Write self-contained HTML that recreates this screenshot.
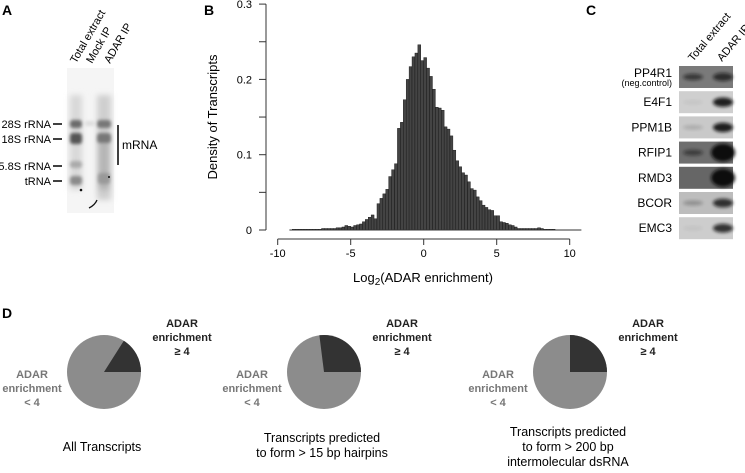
<!DOCTYPE html>
<html><head><meta charset="utf-8"><style>
body{margin:0;background:#fff;width:745px;height:468px;overflow:hidden;font-family:"Liberation Sans",sans-serif;}
svg text{font-family:"Liberation Sans",sans-serif;}
</style></head><body>
<svg id="fig" width="745" height="468" viewBox="0 0 745 468">
<defs>
<filter id="blur" x="-50%" y="-50%" width="200%" height="200%"><feGaussianBlur stdDeviation="1.6"/></filter>
<filter id="blur2" x="-50%" y="-50%" width="200%" height="200%"><feGaussianBlur stdDeviation="3"/></filter>
</defs>
<!-- Panel labels -->
<text x="2" y="15" font-size="14" font-weight="bold">A</text>
<text x="204" y="15" font-size="14" font-weight="bold">B</text>
<text x="586" y="15" font-size="14" font-weight="bold">C</text>
<text x="2" y="318" font-size="14" font-weight="bold">D</text>

<!-- Panel A gel -->
<g>
<rect x="67" y="68" width="47" height="145" fill="#f5f5f5"/>
<g filter="url(#blur2)">
<rect x="70" y="95" width="12" height="95" fill="#d8d8d8"/>
<rect x="97" y="95" width="14" height="105" fill="#cfcfcf"/>
<rect x="98" y="140" width="12" height="50" fill="#b5b5b5"/>
</g>
<g filter="url(#blur)">
<rect x="70" y="120" width="12" height="8" rx="3" fill="#6a6a6a"/>
<rect x="70" y="133" width="12" height="11" rx="3" fill="#555"/>
<rect x="70" y="161" width="12" height="7" rx="3" fill="#aaa"/>
<rect x="70" y="176" width="12" height="9" rx="3" fill="#8a8a8a"/>
<rect x="85" y="121" width="10" height="5" rx="2" fill="#ddd"/>
<rect x="97" y="120" width="14" height="8" rx="3" fill="#777"/>
<rect x="97" y="133" width="14" height="10" rx="3" fill="#777"/>
<rect x="98" y="173" width="12" height="11" rx="3" fill="#999"/>
</g>
<circle cx="81" cy="190" r="1.3" fill="#111"/>
<path d="M89 208 Q95 205 97 200" stroke="#111" stroke-width="1.3" fill="none"/>
<circle cx="109" cy="177" r="1" fill="#111"/>
</g>
<g font-size="11" text-anchor="end">
<text x="51" y="128">28S rRNA</text><line x1="53" y1="124" x2="62" y2="124" stroke="#000" stroke-width="1.5"/>
<text x="51" y="143">18S rRNA</text><line x1="53" y1="139" x2="62" y2="139" stroke="#000" stroke-width="1.5"/>
<text x="51" y="170">5.8S rRNA</text><line x1="53" y1="166" x2="62" y2="166" stroke="#000" stroke-width="1.5"/>
<text x="51" y="185">tRNA</text><line x1="53" y1="181" x2="62" y2="181" stroke="#000" stroke-width="1.5"/>
</g>
<line x1="118" y1="125" x2="118" y2="165" stroke="#000" stroke-width="1.5"/>
<text x="122" y="149" font-size="12">mRNA</text>
<g font-size="11">
<text transform="translate(76,64) rotate(-60)">Total extract</text>
<text transform="translate(92,64) rotate(-60)">Mock IP</text>
<text transform="translate(110,64) rotate(-60)">ADAR IP</text>
</g>

<!-- Panel B histogram -->
<g id="hist"></g>

<!-- Panel C blots -->
<g id="blots"></g>
<g font-size="11">
<text transform="translate(693,62) rotate(-50)">Total extract</text>
<text transform="translate(722,62) rotate(-50)">ADAR IP</text>
</g>

<!-- Panel D pies -->
<g id="pies"></g>
</svg>
<script>
var NS='http://www.w3.org/2000/svg';
function mk(tag,attrs,parent,txt){var e=document.createElementNS(NS,tag);for(var k in attrs)e.setAttribute(k,attrs[k]);if(txt!==undefined)e.textContent=txt;parent.appendChild(e);return e;}

// ---- Histogram data ----
var binStart=-9.0;
var binWidth=0.2;
var densities=[0.001,0.001,0.001,0.001,0.001,0.001,0.001,0.001,0.001,0.001,
0.002,0.002,0.002,0.002,0.002,0.003,0.003,0.004,0.006,0.005,
0.004,0.006,0.007,0.008,0.011,0.014,0.017,0.020,0.015,0.035,
0.042,0.048,0.054,0.071,0.080,0.088,0.135,0.143,0.173,0.200,
0.217,0.230,0.235,0.246,0.225,0.229,0.215,0.204,0.187,0.163,
0.162,0.159,0.137,0.134,0.125,0.106,0.092,0.084,0.076,0.073,
0.064,0.055,0.053,0.044,0.039,0.033,0.030,0.027,0.026,0.019,
0.019,0.011,0.010,0.009,0.007,0.006,0.004,0.002,0.002,0.002,
0.002,0.002,0.002,0.002,0.003,0.002,0.001,0.001,0.001,0.001];
var xTicks=[-10,-5,0,5,10];
var yTicks=[0,0.05,0.1,0.15,0.2,0.25,0.3];
var yTickLabels=['0','','0.1','','0.2','','0.3'];

var hx=function(v){return 423.7+(v)*14.6;};
var hy=function(v){return 230-(v)*753;};
var H=document.getElementById('hist');
densities.forEach(function(d,i){
  var x0=hx(binStart+i*binWidth),x1=hx(binStart+(i+1)*binWidth);
  var r=mk('rect',{x:x0,y:hy(d),width:x1-x0,height:hy(0)-hy(d),fill:'#444',stroke:'#111','stroke-width':0.4},H);
  
  
});
var bl=mk('line',{x1:hx(-9.2),x2:hx(10.8),y1:hy(0),y2:hy(0),stroke:'#333','stroke-width':1},H);


var ya=mk('line',{x1:266,x2:266,y1:hy(0),y2:hy(0.3),stroke:'#333','stroke-width':1},H);


yTicks.forEach(function(t,i){
  mk('line',{x1:259,x2:266,y1:hy(t),y2:hy(t),stroke:'#333'},H);
  if(yTickLabels[i]){var tl=mk('text',{x:252,y:hy(t)+4,'font-size':11,'text-anchor':'end'},H,yTickLabels[i]);
  
  }
});
var xa=mk('line',{x1:hx(-10),x2:hx(10),y1:239,y2:239,stroke:'#333'},H);


xTicks.forEach(function(t){
  mk('line',{x1:hx(t),x2:hx(t),y1:239,y2:245,stroke:'#333'},H);
  var tl=mk('text',{x:hx(t),y:257,'font-size':11,'text-anchor':'middle'},H,String(t));
  
  
});
var xt=mk('text',{x:423,y:282,'font-size':13,'text-anchor':'middle'},H);


xt.innerHTML='Log<tspan font-size="10" dy="3">2</tspan><tspan dy="-3">(ADAR enrichment)</tspan>';
var yt=mk('text',{transform:'translate(217,117) rotate(-90)','font-size':13,'text-anchor':'middle'},H,'Density of Transcripts');



// ---- Blots ----
var genes=['PP4R1','E4F1','PPM1B','RFIP1','RMD3','BCOR','EMC3'];
var bgShade=['#7a7a7a','#cfcfcf','#c9c9c9','#6e6e6e','#666','#bdbdbd','#cdcdcd'];
var totalBand=[0.6,0.05,0.15,0.5,0,0.25,0.05];
var ipBand=[0.7,0.9,0.9,1,1,0.8,0.8];
var B=document.getElementById('blots');
genes.forEach(function(g,i){
  var y=66+i*25.2;
  var r=mk('rect',{x:679,y:y,width:54,height:22,fill:bgShade[i]},B);
  
  
  if(totalBand[i]>0) mk('ellipse',{cx:693,cy:y+11,rx:10,ry:2+2*totalBand[i],fill:'#111',opacity:totalBand[i],filter:'url(#blur)'},B);
  var big=ipBand[i]>=1;
  mk('ellipse',{cx:723,cy:y+11,rx:big?12:10,ry:big?9:2+3*ipBand[i],fill:'#111',opacity:ipBand[i],filter:'url(#blur)'},B);
  var t=mk('text',{x:672,y:(i===0?y+11:y+15),'font-size':12,'text-anchor':'end'},B,g);
  
  
});
var nc=mk('text',{x:672,y:86,'font-size':9,'text-anchor':'end'},B,'(neg.control)');



// ---- Pies ----
var pieFractions=[0.16,0.27,0.25];
var pieCx=[104,324,570];
var captions=[['All Transcripts'],['Transcripts predicted','to form > 15 bp hairpins'],['Transcripts predicted','to form > 200 bp','intermolecular dsRNA']];
var P=document.getElementById('pies');
pieFractions.forEach(function(f,i){
  var cx=pieCx[i],cy=372,r=37;
  var c=mk('circle',{cx:cx,cy:cy,r:r,fill:'#8c8c8c'},P);
  
  
  var a=f*2*Math.PI;
  var ex=cx+r*Math.cos(-a),ey=cy+r*Math.sin(-a);
  var p=mk('path',{d:'M'+cx+','+cy+' L'+(cx+r)+','+cy+' A'+r+','+r+' 0 '+(f>0.5?1:0)+' 0 '+ex+','+ey+' Z',fill:'#333'},P);
  
  
  var rl=['ADAR','enrichment','\u2265 4'];
  rl.forEach(function(s,j){var t=mk('text',{x:cx+78,y:327+j*14,'font-size':11,'font-weight':'bold','text-anchor':'middle',fill:'#222'},P,s);
    
    });
  var ll=['ADAR','enrichment','< 4'];
  ll.forEach(function(s,j){var t=mk('text',{x:cx-72,y:378+j*14,'font-size':11,'font-weight':'bold','text-anchor':'middle',fill:'#777'},P,s);
    
    });
  var cy0=[451,442,436][i];
  captions[i].forEach(function(s,j){var t=mk('text',{x:cx-2,y:cy0+j*15,'font-size':12.5,'text-anchor':'middle'},P,s);
    
    });
});
</script>
</body></html>
